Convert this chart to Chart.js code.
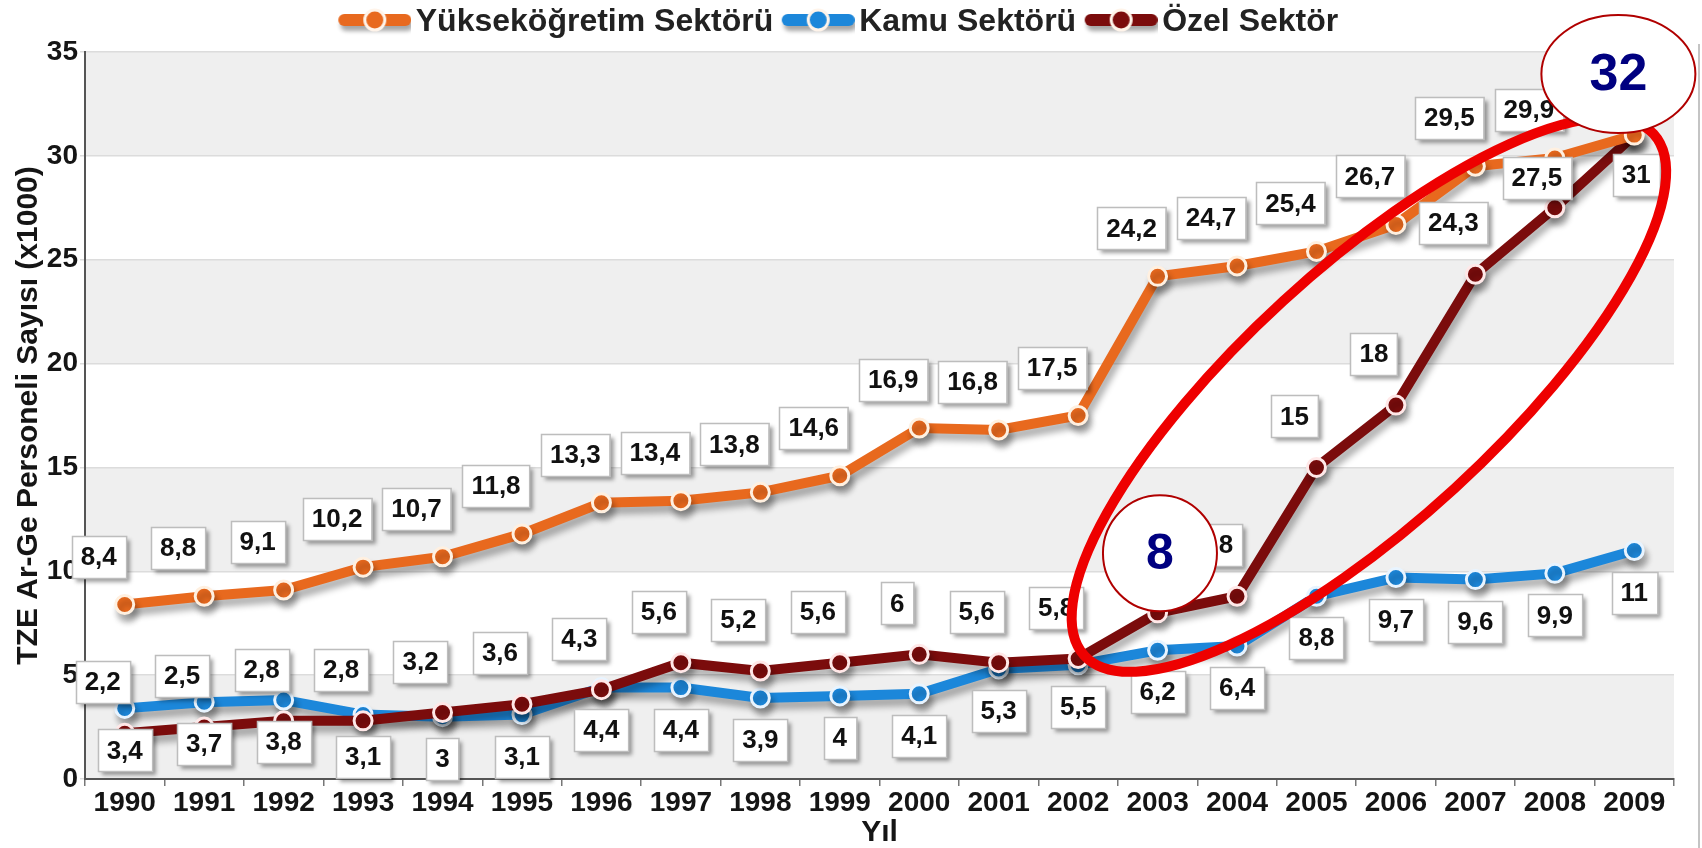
<!DOCTYPE html>
<html><head><meta charset="utf-8">
<script src="https://cdn.jsdelivr.net/npm/chart.js@4/dist/chart.umd.min.js"></script>
<style>html,body{margin:0;padding:0;background:#fff;overflow:hidden}#wrap{width:1702px;height:848px}</style>
</head><body><div id="wrap"><canvas id="c" width="1702" height="848"></canvas></div>
<script>
const years = ['1990','1991','1992','1993','1994','1995','1996','1997','1998','1999','2000','2001','2002','2003','2004','2005','2006','2007','2008','2009'];
const yuksekogretim = [8.4, 8.8, 9.1, 10.2, 10.7, 11.8, 13.3, 13.4, 13.8, 14.6, 16.9, 16.8, 17.5, 24.2, 24.7, 25.4, 26.7, 29.5, 29.9, 31];
const kamu = [3.4, 3.7, 3.8, 3.1, 3, 3.1, 4.4, 4.4, 3.9, 4, 4.1, 5.3, 5.5, 6.2, 6.4, 8.8, 9.7, 9.6, 9.9, 11];
const ozel = [2.2, 2.5, 2.8, 2.8, 3.2, 3.6, 4.3, 5.6, 5.2, 5.6, 6, 5.6, 5.8, 8, 8.8, 15, 18, 24.3, 27.5, 31];
const seriesNames = ['Yükseköğretim Sektörü', 'Kamu Sektörü', 'Özel Sektör'];
const yTicks = [0, 5, 10, 15, 20, 25, 30, 35];
const annotationTexts = ['8', '32'];

const COLORS = ['#E8691E', '#1C87DA', '#7B0C0C'];
const FONT = "'Liberation Sans', Arial, sans-serif";
const fmt = v => String(v).replace('.', ',');

function legendIcon(color) {
  const c = document.createElement('canvas');
  c.width = 87; c.height = 34;
  const g = c.getContext('2d');
  g.save();
  g.shadowColor = 'rgba(0,0,0,0.35)'; g.shadowBlur = 4; g.shadowOffsetX = 2; g.shadowOffsetY = 5;
  g.strokeStyle = color; g.lineWidth = 12; g.lineCap = 'round';
  g.beginPath(); g.moveTo(20, 15); g.lineTo(81, 15); g.stroke();
  g.restore();
  g.beginPath(); g.arc(50.5, 15, 10, 0, Math.PI * 2);
  g.fillStyle = color; g.fill();
  g.lineWidth = 3; g.strokeStyle = '#fff4ea'; g.stroke();
  return c;
}

const shadowPlugin = {
  id: 'lineShadow',
  beforeDatasetDraw(chart) {
    const ctx = chart.ctx; ctx.save();
    ctx.shadowColor = 'rgba(0,0,0,0.30)'; ctx.shadowBlur = 6; ctx.shadowOffsetX = 3; ctx.shadowOffsetY = 7;
  },
  afterDatasetDraw(chart) { chart.ctx.restore(); }
};

const bandsPlugin = {
  id: 'bands',
  beforeDraw(chart) {
    const { ctx, chartArea: a, scales: { y } } = chart;
    ctx.save();
    ctx.fillStyle = '#fff'; ctx.fillRect(0, 0, chart.width, chart.height);
    for (let i = 0; i < yTicks.length - 1; i += 2) {
      const top = y.getPixelForValue(yTicks[i + 1]), bot = y.getPixelForValue(yTicks[i]);
      ctx.fillStyle = '#efefef';
      ctx.fillRect(a.left, top, a.right - a.left, bot - top);
    }
    ctx.strokeStyle = '#c4c4c4'; ctx.lineWidth = 2;
    ctx.beginPath(); ctx.moveTo(chart.width - 3, 44); ctx.lineTo(chart.width - 3, chart.height); ctx.stroke();
    ctx.restore();
  }
};

function drawBoxLabel(ctx, text, cx, cy) {
  ctx.font = 'bold 26px ' + FONT;
  const w = ctx.measureText(text).width + 18, h = 42;
  const x = Math.round(cx - w / 2), y = Math.round(cy - h / 2);
  ctx.save();
  ctx.shadowColor = 'rgba(0,0,0,0.38)'; ctx.shadowBlur = 4; ctx.shadowOffsetX = 4; ctx.shadowOffsetY = 4;
  ctx.fillStyle = '#fff'; ctx.fillRect(x, y, w, h);
  ctx.restore();
  ctx.strokeStyle = '#bdbdbd'; ctx.lineWidth = 1.5; ctx.strokeRect(x + 0.5, y + 0.5, w, h);
  ctx.fillStyle = '#111'; ctx.textAlign = 'center'; ctx.textBaseline = 'middle';
  ctx.fillText(text, cx, cy + 1);
}

const labelPlugin = {
  id: 'boxLabels',
  afterDatasetsDraw(chart) {
    const ctx = chart.ctx;
    ctx.save();
    [0, 2, 1].forEach(di => {
      const meta = chart.getDatasetMeta(di);
      const ds = chart.data.datasets[di];
      meta.data.forEach((pt, i) => {
        const off = (ds.labelNudges && ds.labelNudges[i]) || ds.labelOffset;
        drawBoxLabel(ctx, fmt(ds.data[i]), pt.x + off.dx, pt.y + off.dy);
      });
    });
    ctx.restore();
  }
};

const annotationPlugin = {
  id: 'annot',
  afterDraw(chart) {
    const { ctx, scales: { x, y } } = chart;
    ctx.save();
    ctx.beginPath();
    ctx.ellipse(x.getPixelForValue(15.66), y.getPixelForValue(18.5), 386, 127, -42.5 * Math.PI / 180, 0, Math.PI * 2);
    ctx.lineWidth = 10; ctx.strokeStyle = '#EE0000'; ctx.stroke();
    const bubble = (xi, yv, rx, ry, text, size) => {
      const cx = x.getPixelForValue(xi), cy = y.getPixelForValue(yv);
      ctx.beginPath(); ctx.ellipse(cx, cy, rx, ry, 0, 0, Math.PI * 2);
      ctx.fillStyle = '#fff'; ctx.fill();
      ctx.lineWidth = 2; ctx.strokeStyle = '#B00000'; ctx.stroke();
      ctx.fillStyle = '#000080'; ctx.font = 'bold ' + size + 'px ' + FONT;
      ctx.textAlign = 'center'; ctx.textBaseline = 'middle';
      ctx.fillText(text, cx, cy + 2);
    };
    bubble(13.03, 10.87, 57, 58, annotationTexts[0], 50);
    bubble(18.8, 33.94, 77, 59, annotationTexts[1], 52);
    ctx.restore();
  }
};

const legendPadPlugin = {
  id: 'legendPad',
  beforeLayout(chart) {
    const lg = chart.legend;
    if (lg && !lg._padPatched) {
      const orig = lg.fit.bind(lg);
      lg.fit = function () { orig(); this.height += 4; };
      lg._padPatched = true;
    }
  }
};

const dsCommon = { borderWidth: 10, pointRadius: 9, pointHoverRadius: 9, pointBorderWidth: 3, tension: 0, fill: false };

new Chart(document.getElementById('c'), {
  type: 'line',
  data: {
    labels: years,
    datasets: [
      Object.assign({ label: seriesNames[0], data: yuksekogretim, borderColor: COLORS[0], pointBackgroundColor: COLORS[0], pointBorderColor: '#fff0e0', order: 0, labelOffset: { dx: -26, dy: -48 } }, dsCommon),
      Object.assign({ label: seriesNames[1], data: kamu, borderColor: COLORS[1], pointBackgroundColor: COLORS[1], pointBorderColor: '#e8f4ff', order: 2, labelOffset: { dx: 0, dy: 42 } }, dsCommon),
      Object.assign({ label: seriesNames[2], data: ozel, borderColor: COLORS[2], pointBackgroundColor: COLORS[2], pointBorderColor: '#ffe8e8', order: 1, labelOffset: { dx: -22, dy: -51 },
        labelNudges: { 18: { dx: -18, dy: -30 }, 19: { dx: 2, dy: 40 } } }, dsCommon)
    ]
  },
  options: {
    responsive: false,
    devicePixelRatio: 1,
    animation: false,
    layout: { padding: { top: 0, right: 28, bottom: 0, left: 0 } },
    plugins: {
      tooltip: { enabled: false },
      legend: {
        position: 'top',
        labels: {
          usePointStyle: true,
          pointStyleWidth: 64,
          padding: 6,
          color: '#222',
          font: { family: FONT, size: 32, weight: 'bold' },
          generateLabels(chart) {
            return chart.data.datasets.map((ds, i) => ({
              text: ds.label, pointStyle: legendIcon(COLORS[i]), fillStyle: COLORS[i],
              strokeStyle: COLORS[i], lineWidth: 0, hidden: false, datasetIndex: i, fontColor: '#222'
            }));
          }
        }
      }
    },
    scales: {
      x: {
        type: 'category',
        offset: true,
        afterFit(s) { s.height = 69; },
        grid: { display: true, drawOnChartArea: false, drawTicks: true, tickLength: 7, color: '#777', lineWidth: 1.5, offset: true },
        border: { display: true, color: '#555', width: 2 },
        ticks: { color: '#151515', font: { family: FONT, size: 28, weight: 'bold' }, padding: 0, maxRotation: 0, autoSkip: false },
        title: { display: true, text: 'Yıl', color: '#151515', font: { family: FONT, size: 30, weight: 'bold', lineHeight: 1 }, padding: { top: 0, bottom: 0 } }
      },
      y: {
        min: 0, max: 35,
        afterFit(s) { s.width = 85; },
        afterBuildTicks(s) { s.ticks = yTicks.map(v => ({ value: v })); },
        grid: { display: true, drawOnChartArea: true, color: '#dcdcdc', lineWidth: 1.5, tickLength: 5, drawTicks: true },
        border: { display: true, color: '#555', width: 2 },
        ticks: { color: '#151515', font: { family: FONT, size: 28, weight: 'bold' }, padding: 2 },
        title: { display: true, text: 'TZE Ar-Ge Personeli Sayısı (x1000)', color: '#151515', font: { family: FONT, size: 30, weight: 'bold' }, padding: { top: 11, bottom: 0 } }
      }
    }
  },
  plugins: [bandsPlugin, shadowPlugin, labelPlugin, annotationPlugin, legendPadPlugin]
});
</script>
</body></html>
